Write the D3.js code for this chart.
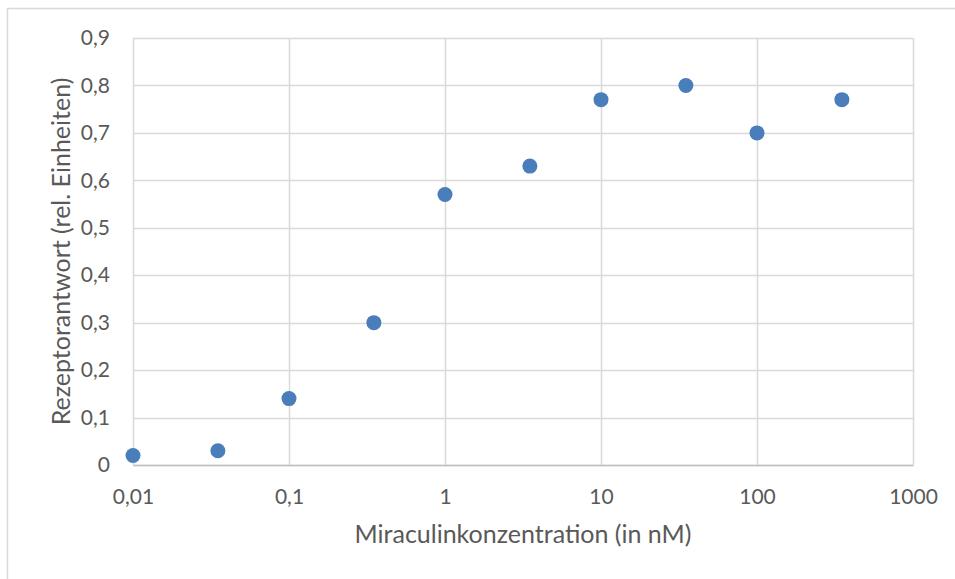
<!DOCTYPE html>
<html>
<head>
<meta charset="utf-8">
<script src="https://cdn.jsdelivr.net/npm/d3@7"></script>
<style>
  body { margin: 0; background: #fff; }
  svg { display: block; font-family: Lato, "Open Sans", sans-serif; }
</style>
</head>
<body>
<svg id="chart" width="955" height="579"></svg>
<script>
// Miraculin concentration (nM) vs. receptor response
var concentration = [0.01, 0.035, 0.1, 0.35, 1, 3.5, 10, 35, 100, 350];
var response = [0.02, 0.03, 0.14, 0.30, 0.57, 0.63, 0.77, 0.80, 0.70, 0.77];
var xTicks = [0.01, 0.1, 1, 10, 100, 1000];
var yTicks = [0, 0.1, 0.2, 0.3, 0.4, 0.5, 0.6, 0.7, 0.8, 0.9];

var svg = d3.select('#chart');
var margin = {top: 38, right: 42, bottom: 114, left: 133};
var width = 955 - margin.left - margin.right,
    height = 579 - margin.top - margin.bottom;

var fmt = function(d) { return String(d).replace('.', ','); };

// outer chart frame
svg.append('rect')
  .attr('x', 7.5).attr('y', 8.5)
  .attr('width', 960).attr('height', 600)
  .attr('fill', 'none')
  .attr('stroke', '#d9d9d9')
  .attr('stroke-width', 1.5);

var g = svg.append('g')
  .attr('transform', 'translate(' + margin.left + ',' + margin.top + ')');

var x = d3.scaleLog().domain([0.01, 1000]).range([0, width]);
var y = d3.scaleLinear().domain([0, 0.9]).range([height, 0]);

// grid
g.append('g')
  .selectAll('line')
  .data(yTicks)
  .enter().append('line')
  .attr('x1', 0).attr('x2', width)
  .attr('y1', function(d) { return Math.round(y(d)) + 0.5; })
  .attr('y2', function(d) { return Math.round(y(d)) + 0.5; })
  .attr('stroke', '#d9d9d9')
  .attr('stroke-width', 1.5);

g.append('g')
  .selectAll('line')
  .data(xTicks)
  .enter().append('line')
  .attr('y1', 0).attr('y2', height)
  .attr('x1', function(d) { return Math.round(x(d)) + 0.5; })
  .attr('x2', function(d) { return Math.round(x(d)) + 0.5; })
  .attr('stroke', '#d9d9d9')
  .attr('stroke-width', 1.5);

// axes
var xAxis = g.append('g')
  .attr('transform', 'translate(0,' + height + ')')
  .call(d3.axisBottom(x).tickValues(xTicks).tickFormat(fmt).tickSize(0).tickPadding(24));
xAxis.select('.domain').attr('stroke', '#bfbfbf').attr('stroke-width', 1.5);

var yAxis = g.append('g')
  .call(d3.axisLeft(y).tickValues(yTicks).tickFormat(fmt).tickSize(0).tickPadding(23));
yAxis.select('.domain').remove();

g.selectAll('.tick text')
  .attr('fill', '#595959')
  .style('font-size', '21px')
  .style('font-family', 'Lato, "Open Sans", sans-serif');

// points
g.append('g')
  .selectAll('circle')
  .data(concentration)
  .enter().append('circle')
  .attr('cx', function(d) { return x(d); })
  .attr('cy', function(d, i) { return y(response[i]); })
  .attr('r', 7.5)
  .attr('fill', '#4a7ebb');

// axis titles
svg.append('text')
  .attr('x', margin.left + width / 2)
  .attr('y', 543)
  .attr('text-anchor', 'middle')
  .attr('fill', '#595959')
  .style('font-size', '25px')
  .text('Miraculinkonzentration (in nM)');

svg.append('text')
  .attr('transform', 'translate(70,' + (margin.top + height / 2) + ') rotate(-90)')
  .attr('text-anchor', 'middle')
  .attr('fill', '#595959')
  .style('font-size', '25px')
  .text('Rezeptorantwort (rel. Einheiten)');
</script>
</body>
</html>
